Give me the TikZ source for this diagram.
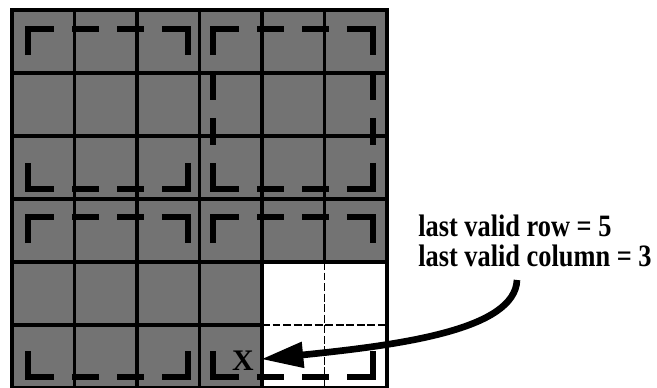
\documentclass[tikz,border=0pt]{standalone}
\usepackage{fontspec}
\setmainfont{Liberation Serif}
\usetikzlibrary{arrows.meta}
\begin{document}
\begin{tikzpicture}[x=0.02cm,y=-0.02cm,
  cellline/.style={line width=1.8pt},
  freeline/.style={line width=1.1pt,dash pattern=on 4.5pt off 1.5pt},
  tilebox/.style={line width=3.4pt},
  pointer/.style={line width=3.8pt,-{Triangle[length=24pt,width=14pt]}}]
\useasboundingbox (0,0) rectangle (657,388);
\fill[black!55] (12,10) rectangle (387,388);
\fill[white] (262,262) rectangle (387,388);
\foreach \i in {1,...,4}
{
	\draw[cellline] ({12+62.5*\i},10) --++ (0,378);
	\draw[cellline] (12,{10+63*\i}) --++ (375,0);
}
\draw[cellline] (324.5,10) -- (324.5,262);
\draw[cellline] (12,325) -- (262,325);
\draw[freeline] (324.5,262) -- (324.5,388);
\draw[freeline] (262,325) -- (387,325);
\draw[line width=2.3pt] (12,10) rectangle (387,388);
\foreach \x / \y / \v in {28/29/0, 213/29/1, 28/217/0, 213/217/0}
{
	\draw[tilebox,dash pattern=on 1.04cm off 2.16cm,dash phase=2.12cm]
		(\x+80,\y) --++ (80,0) --++ (0,160) --++ (-160,0) --++ (0,-160) -- cycle;
	\foreach \t in {44,89}
	{
		\draw[tilebox] (\x+\t,\y) --+ (27,0) (\x+\t,\y+160) --+ (27,0);
		\ifnum\v=1 \draw[tilebox] (\x,\y+\t) --+ (0,27) (\x+160,\y+\t) --+ (0,27); \fi
	}
}
\node[font=\bfseries\fontsize{17}{17}\selectfont,inner sep=1pt] (lastcell) at (243,361) {X};
\node[anchor=north west,inner sep=0pt,font=\bfseries\fontsize{15}{12.5}\selectfont] (note) at (418,215)
	{\scalebox{1}[1.18]{\begin{tabular}{@{}l@{}}last valid row = 5\\last valid column = 3\end{tabular}}};
\coordinate (tail) at (517,280);
\draw[pointer,shorten >=3pt] (tail) .. controls (515,330) and (400,345) .. (lastcell);
\end{tikzpicture}
\end{document}
